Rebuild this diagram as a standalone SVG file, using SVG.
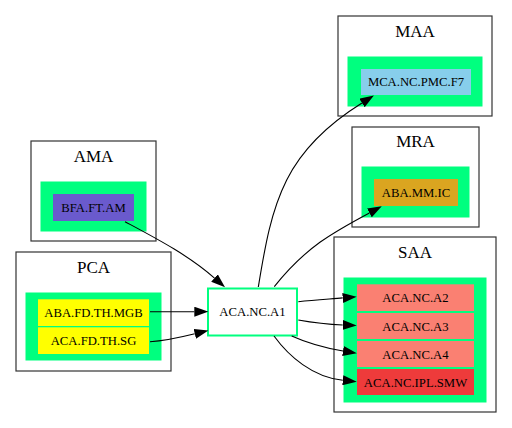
<svg xmlns="http://www.w3.org/2000/svg" width="512" height="428" viewBox="0 0 512 428">
<style>
.cl{fill:#ffffff;stroke:#333333;stroke-width:1.2}
.gr{fill:#00ff7f;stroke:#00ff7f;stroke-width:1}
.ct{font-family:"Liberation Serif","Times New Roman",serif;font-size:17px;fill:#000;text-anchor:middle}
.nt{font-family:"Liberation Serif","Times New Roman",serif;font-size:12.7px;fill:#000;text-anchor:middle}
.e{fill:none;stroke:#000;stroke-width:1.1}
</style>
<defs>
<marker id="ah" viewBox="0 0 14 10" refX="0" refY="5" markerWidth="14" markerHeight="10" markerUnits="userSpaceOnUse" orient="auto">
<path d="M0,0 L14,5 L0,10 Z" fill="#000"/>
</marker>
</defs>
<rect width="512" height="428" fill="#ffffff"/>
<g id="cluster_AMA">
<rect class="cl" x="31" y="141" width="125" height="100"/>
<text class="ct" x="93.5" y="162">AMA</text>
<rect class="gr" x="41" y="182" width="105" height="49"/>
</g>
<g id="cluster_PCA">
<rect class="cl" x="16" y="252" width="155" height="119"/>
<text class="ct" x="93.5" y="273">PCA</text>
<rect class="gr" x="26" y="293" width="135" height="67"/>
</g>
<g id="cluster_MAA">
<rect class="cl" x="338" y="16" width="154" height="100"/>
<text class="ct" x="415" y="37">MAA</text>
<rect class="gr" x="348" y="57" width="134" height="49"/>
</g>
<g id="cluster_MRA">
<rect class="cl" x="352" y="127" width="127" height="100"/>
<text class="ct" x="415.5" y="147">MRA</text>
<rect class="gr" x="362" y="167" width="107" height="50"/>
</g>
<g id="cluster_SAA">
<rect class="cl" x="334" y="237" width="162" height="175"/>
<text class="ct" x="415" y="258">SAA</text>
<rect class="gr" x="344" y="278" width="142" height="124"/>
</g>
<g id="BFA.FT.AM">
<rect x="53" y="194" width="81" height="27" fill="#6a5acd"/>
<text class="nt" x="93.5" y="211.5">BFA.FT.AM</text>
</g>
<g id="ABA.FD.TH.MGB">
<rect x="38" y="299.3" width="111" height="26.7" fill="#ffff00"/>
<text class="nt" x="93.5" y="317">ABA.FD.TH.MGB</text>
</g>
<g id="ACA.FD.TH.SG">
<rect x="38" y="327.3" width="111" height="26.7" fill="#ffff00"/>
<text class="nt" x="93.5" y="344.5">ACA.FD.TH.SG</text>
</g>
<g id="MCA.NC.PMC.F7">
<rect x="361" y="69" width="110" height="26" fill="#87ceeb"/>
<text class="nt" x="416" y="86">MCA.NC.PMC.F7</text>
</g>
<g id="ABA.MM.IC">
<rect x="374" y="179" width="84" height="27" fill="#daa520"/>
<text class="nt" x="416" y="196.5">ABA.MM.IC</text>
</g>
<g id="ACA.NC.A2">
<rect x="357" y="284.3" width="117" height="26.7" fill="#fa8072"/>
<text class="nt" x="415.5" y="302">ACA.NC.A2</text>
</g>
<g id="ACA.NC.A3">
<rect x="357" y="313" width="117" height="26" fill="#fa8072"/>
<text class="nt" x="415.5" y="330.5">ACA.NC.A3</text>
</g>
<g id="ACA.NC.A4">
<rect x="357" y="341" width="117" height="26" fill="#fa8072"/>
<text class="nt" x="415.5" y="358.5">ACA.NC.A4</text>
</g>
<g id="ACA.NC.IPL.SMW">
<rect x="357" y="369" width="117" height="26" fill="#ee3b3b"/>
<text class="nt" x="415.5" y="386.5">ACA.NC.IPL.SMW</text>
</g>
<g id="ACA.NC.A1">
<rect x="208" y="288.5" width="89" height="47" fill="#ffffff" stroke="#00ff7f" stroke-width="2"/>
<text class="nt" x="252.5" y="316">ACA.NC.A1</text>
</g>
<g id="edges">
<path class="e" marker-end="url(#ah)" d="M125,221.7 C155.8,238.2 188.3,255 214.5,278.1"/>
<path class="e" marker-end="url(#ah)" d="M150,311.7 L194.3,311.7"/>
<path class="e" marker-end="url(#ah)" d="M150,341.7 C165,341 180,337.5 194.8,333.8"/>
<path class="e" marker-end="url(#ah)" d="M258.3,287 C264.4,250.5 270.1,213.1 286.7,180 C302.8,147.8 331.4,122.1 362,103"/>
<path class="e" marker-end="url(#ah)" d="M274.3,286.7 C305.3,247.2 334.2,231.7 369.4,212.9"/>
<path class="e" marker-end="url(#ah)" d="M298.3,301.7 C315,300 330,299 342.7,297.9"/>
<path class="e" marker-end="url(#ah)" d="M298.3,320 C315,323 330,324.5 342.7,325"/>
<path class="e" marker-end="url(#ah)" d="M291.7,336 C305,342 325,348 343,351"/>
<path class="e" marker-end="url(#ah)" d="M274,336 C288.8,356.3 312.8,377.3 342.8,380.3"/>
</g>
</svg>
